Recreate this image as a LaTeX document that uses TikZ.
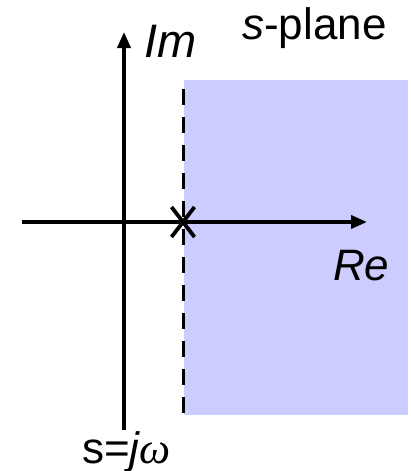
\documentclass[tikz,border=0pt]{standalone}
\usepackage{fontspec}
\setmainfont{Liberation Sans}
\newfontfamily\greekserif{Liberation Serif}
\usetikzlibrary{arrows.meta}
\begin{document}
\begin{tikzpicture}[x=1pt,y=-1pt,
  axis/.style={line width=3.6pt,-{Triangle[width=13pt,length=16pt]}},
  lbl/.style={font=\fontsize{44}{52}\selectfont,inner sep=0pt,anchor=base west},
  dashline/.style={line width=3.6pt,dash pattern=on 16pt off 12pt},
  cross/.style={line width=3.8pt}]
\useasboundingbox (0,0) rectangle (410,471);
\fill[fill={rgb,255:red,204;green,204;blue,255}] (184,80) rectangle (408,415);
\coordinate (vb) at (124,430);
\coordinate (vt) at (124,32);
\coordinate (hl) at (22,222);
\coordinate (hr) at (367,222);
\coordinate (dt) at (183.5,89);
\coordinate (db) at (183.5,413);
\draw[axis] (vb) -- (vt);
\draw[axis] (hl) -- (hr);
\draw[dashline] (dt) -- (db);
\coordinate (p) at (183,222);
\draw[cross] ([shift={(-11.5,-15)}]p) -- ([shift={(11.5,15)}]p);
\draw[cross] ([shift={(11.5,-15)}]p) -- ([shift={(-11.5,15)}]p);
\node[lbl,font=\fontsize{47}{54}\selectfont] (im) at (144,57) {\itshape Im};
\node[lbl] (sp) at (242,39) {\itshape s\upshape-plane};
\node[lbl] (re) at (333,280) {\itshape Re};
\node[lbl] (sj) at (82,463) {s=\itshape j{\greekserif ω}};
\end{tikzpicture}
\end{document}
